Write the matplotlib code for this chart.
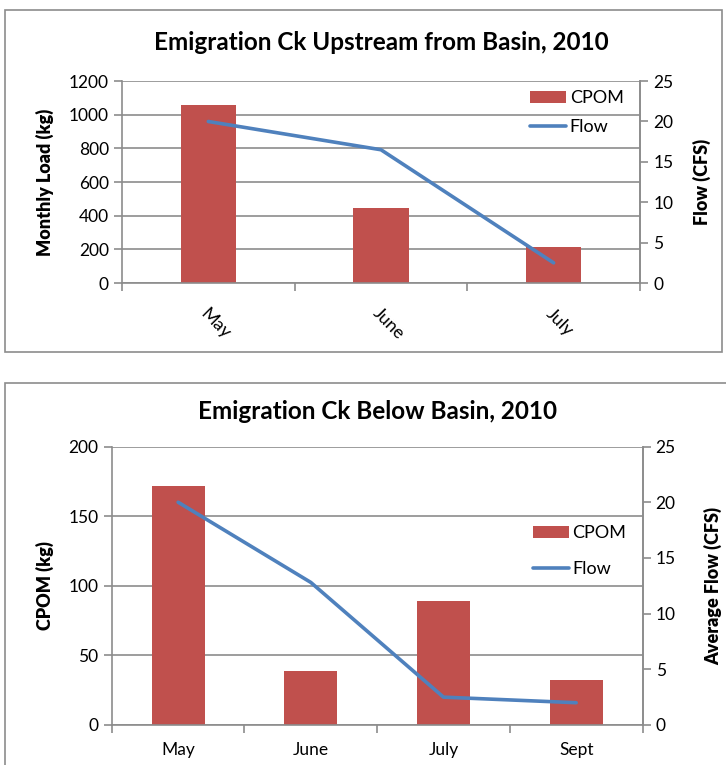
import matplotlib
matplotlib.use('Agg')
import matplotlib.pyplot as plt
from matplotlib.patches import Rectangle
import numpy as np

plt.rcParams['font.family'] = ['Lato', 'DejaVu Sans']

# upstream chart
up_months = ['May', 'June', 'July']
up_cpom = [1055, 447, 213]
up_flow = [20.0, 16.5, 2.5]

# below basin chart
low_months = ['May', 'June', 'July', 'Sept']
low_cpom = [172, 39, 89, 32]
low_flow = [20.0, 12.8, 2.5, 2.0]

bar_col = '#C0504D'
line_col = '#4F81BD'
grid_col = '#8C8C8C'

W, H = 726, 765
fig = plt.figure(figsize=(W / 100, H / 100), dpi=100)

# chart borders
fig.patches.append(Rectangle((0.007, 0.540), 0.988, 0.447, transform=fig.transFigure,
                             fill=False, edgecolor='#8C8C8C', lw=1.2))
fig.patches.append(Rectangle((0.007, -0.05), 1.1, 0.549, transform=fig.transFigure,
                             fill=False, edgecolor='#8C8C8C', lw=1.2))


def draw(rect, months, cpom, flow, ymax, ystep, bw, title, ylab, y2lab, rot,
         title_y, lab_x, lab2_x, leg_y):
    ax = fig.add_axes(rect)
    x = np.arange(len(months))
    ax.bar(x, cpom, width=bw, color=bar_col, zorder=2, label='CPOM')
    ax.set_xlim(-0.5, len(months) - 0.5)
    ax.set_ylim(0, ymax)
    ax.set_yticks(np.arange(0, ymax + 1, ystep))
    ax.yaxis.grid(True, color=grid_col, lw=1.2, zorder=0)
    ax.set_axisbelow(True)
    ax.set_xticks(x)
    if rot:
        ax.set_xticklabels(months, rotation=-45, ha='left', va='top', rotation_mode='anchor',
                           fontsize=13)
        ax.tick_params(axis='x', which='major', length=0, pad=16)
    else:
        ax.set_xticklabels(months, fontsize=12.5)
        ax.tick_params(axis='x', which='major', length=0, pad=12)
    ax.set_xticks(np.arange(-0.5, len(months)), minor=True)
    ax.tick_params(axis='x', which='minor', length=6, color=grid_col, width=1.2)
    ax.tick_params(axis='y', length=6, color=grid_col, width=1.2, labelsize=12.5)
    ax.spines['top'].set_visible(False)
    for s in ['left', 'bottom', 'right']:
        ax.spines[s].set_color(grid_col)
        ax.spines[s].set_linewidth(1.2)

    ax2 = ax.twinx()
    ax2.plot(x, flow, color=line_col, lw=2.6, label='Flow', solid_capstyle='round')
    ax2.set_ylim(0, 25)
    ax2.set_yticks(np.arange(0, 26, 5))
    ax2.tick_params(axis='y', length=6, color=grid_col, width=1.2, labelsize=12.5)
    for s in ['top', 'left', 'bottom']:
        ax2.spines[s].set_visible(False)
    ax2.spines['right'].set_color(grid_col)
    ax2.spines['right'].set_linewidth(1.2)

    yc = rect[1] + rect[3] / 2
    fig.text(lab_x / W, yc, ylab, rotation=90, ha='center', va='center',
             fontsize=13, fontweight='heavy')
    fig.text(lab2_x / W, yc, y2lab, rotation=90, ha='center', va='center',
             fontsize=13, fontweight='heavy')

    h1, l1 = ax.get_legend_handles_labels()
    h2, l2 = ax2.get_legend_handles_labels()
    ax2.legend(h1 + h2, l1 + l2, loc='upper right', frameon=False, fontsize=13,
               handlelength=2.0, handletextpad=0.2, labelspacing=leg_y[1],
               bbox_to_anchor=(1.0, leg_y[0]))
    fig.text(rect[0] + rect[2] / 2, title_y, title, ha='center', va='center',
             fontsize=17.5, fontweight='bold')
    return ax, ax2


draw([0.168, 0.630, 0.7135, 0.264], up_months, up_cpom, up_flow, 1200, 200, 0.32,
     'Emigration Ck Upstream from Basin, 2010', 'Monthly Load (kg)', 'Flow (CFS)', True,
     0.945, 45, 702, (1.035, 0.7))
draw([0.154, 0.0523, 0.731, 0.364], low_months, low_cpom, low_flow, 200, 50, 0.40,
     'Emigration Ck Below Basin, 2010', 'CPOM (kg)', 'Average Flow (CFS)', False,
     0.462, 45, 713, (0.775, 1.1))

fig.savefig('out.png', dpi=100)
